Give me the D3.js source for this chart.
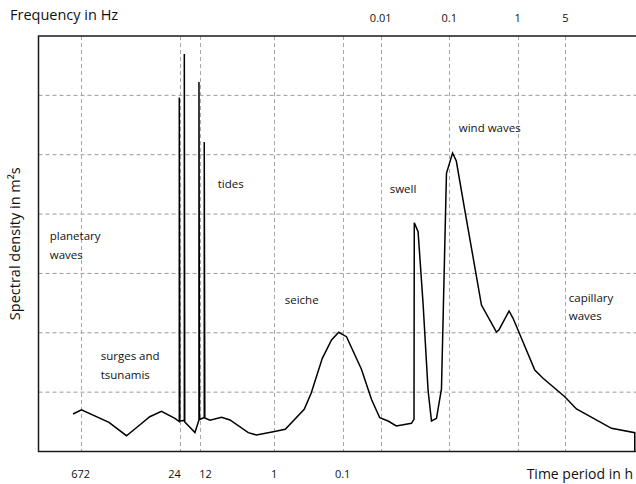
<!DOCTYPE html>
<html>
<head>
<meta charset="utf-8">
<script src="https://cdn.jsdelivr.net/npm/d3@7"></script>
<style>
  body { margin: 0; background: #fff; }
  text { font-family: "Open Sans", "DejaVu Sans", sans-serif; fill: #111; }
</style>
</head>
<body>
<svg id="chart" width="636" height="484"></svg>
<script>
// Ocean wave energy spectrum: spectral density against frequency (log axis)
const freqHz = [
  3.20e-7, 4.24e-7, 1.07e-6, 1.93e-6, 3.01e-6, 4.22e-6, 6.25e-6, 9.84e-6,
  1.14e-5, 1.14e-5, 1.16e-5, 1.30e-5,
  1.35e-5, 1.35e-5, 1.37e-5, 1.93e-5,
  2.21e-5, 2.21e-5, 2.25e-5,
  2.64e-5, 2.64e-5, 2.69e-5,
  3.20e-5, 4.72e-5, 6.27e-5, 1.16e-4, 1.53e-4, 2.69e-4, 4.03e-4, 7.62e-4,
  9.62e-4, 1.40e-3, 1.91e-3, 2.43e-3, 3.16e-3, 5.22e-3, 7.31e-3, 9.66e-3,
  1.28e-2, 1.69e-2, 2.81e-2, 3.06e-2, 3.09e-2, 3.51e-2, 4.15e-2, 4.91e-2,
  5.51e-2, 6.52e-2, 7.71e-2, 9.12e-2, 0.112, 0.127, 0.169, 0.296,
  0.490, 0.535, 0.749, 0.857, 1.78, 2.35, 4.88, 7.23, 23.5, 51.4, 51.4
];
const density = [
  0.632, 0.704, 0.492, 0.266, 0.446, 0.586, 0.677, 0.559,
  0.505, 5.964, 0.514, 0.522,
  0.514, 6.696, 0.497, 0.320,
  0.531, 6.225, 0.539,
  0.573, 5.214, 0.564,
  0.526, 0.576, 0.531, 0.317, 0.278, 0.334, 0.374, 0.711,
  0.980, 1.570, 1.878, 2.008, 1.934, 1.385, 0.879, 0.569,
  0.514, 0.430, 0.475, 0.542, 3.854, 3.703, 2.497, 1.036,
  0.514, 0.559, 1.053, 4.687, 5.029, 4.894, 4.068, 2.468,
  2.013, 2.052, 2.367, 2.244, 1.373, 1.233, 0.923, 0.716, 0.391, 0.317, 0
];

// Bottom axis: wave period in hours; top axis: frequency in Hz
const periodTicksH = [672, 24, 12, 1, 0.1];
const freqTicksHz = [0.01, 0.1, 1, 5];
const densityGrid = [1, 2, 3, 4, 5, 6];

// Wave type annotations, anchored in data space (frequency, density)
const labelLines = [
  ["planetary", "waves"],
  ["surges and", "tsunamis"],
  ["tides"],
  ["seiche"],
  ["swell"],
  ["wind waves"],
  ["capillary", "waves"]
];
const labelFreqHz = [1.46e-7, 8.11e-7, 4.16e-5, 3.96e-4, 1.35e-2, 0.138, 5.58];
const labelDensity = [3.56, 1.54, 4.44, 2.49, 4.36, 5.38, 2.52];

const svg = d3.select("#chart");
const plot = { left: 38.5, top: 36, bottom: 451.5, decadePx: 68.45 };

const x = d3.scaleLog()
  .domain([1e-7, 100])
  .range([plot.left, plot.left + 9 * plot.decadePx]);
const y = d3.scaleLinear().domain([0, 7]).range([plot.bottom, plot.top]);

const hoursToHz = h => 1 / (h * 3600);
const periodTickHz = periodTicksH.map(hoursToHz);

svg.append("clipPath").attr("id", "plotClip")
  .append("rect")
  .attr("x", plot.left).attr("y", plot.top)
  .attr("width", x.range()[1] - plot.left)
  .attr("height", plot.bottom - plot.top);

// Dashed grid
const grid = svg.append("g").attr("clip-path", "url(#plotClip)");
grid.selectAll("line.h").data(densityGrid).join("line")
  .attr("class", "h")
  .attr("x1", plot.left).attr("x2", x.range()[1])
  .attr("y1", d => y(d)).attr("y2", d => y(d))
  .attr("stroke", "#9a9a9a").attr("stroke-width", 1)
  .attr("stroke-dasharray", "4,3");
grid.selectAll("line.v").data(periodTickHz.concat(freqTicksHz)).join("line")
  .attr("class", "v")
  .attr("x1", d => Math.round(x(d)) + 0.5).attr("x2", d => Math.round(x(d)) + 0.5)
  .attr("y1", plot.top).attr("y2", plot.bottom)
  .attr("stroke", "#a8a8a8").attr("stroke-width", 1)
  .attr("stroke-dasharray", "4,3");

// Spectrum curve
const pts = freqHz.map((f, i) => [f, density[i]]);
const line = d3.line().x(d => x(d[0])).y(d => y(d[1]));
svg.append("path")
  .attr("d", line(pts))
  .attr("fill", "none")
  .attr("stroke", "#000")
  .attr("stroke-width", 1.5)
  .attr("stroke-linejoin", "miter");

// Frame
svg.append("rect")
  .attr("x", plot.left).attr("y", plot.top)
  .attr("width", x.range()[1] - plot.left)
  .attr("height", plot.bottom - plot.top)
  .attr("fill", "none").attr("stroke", "#1a1a1a").attr("stroke-width", 1.5);

// Period tick labels; spread apart labels that sit too close together
const minGap = 31;
const periodPos = periodTickHz.map(f => x(f));
const shifted = periodPos.slice();
for (let i = 1; i < periodPos.length; i++) {
  const gap = periodPos[i] - periodPos[i - 1];
  if (gap < minGap) {
    const push = (minGap - gap) / 2;
    shifted[i - 1] -= push;
    shifted[i] += push;
  }
}
svg.append("g").selectAll("text").data(periodTicksH).join("text")
  .attr("x", (d, i) => shifted[i])
  .attr("y", 478)
  .attr("text-anchor", "middle")
  .attr("font-size", 11)
  .text(d => d3.format("~g")(d));

svg.append("g").selectAll("text").data(freqTicksHz).join("text")
  .attr("x", d => x(d))
  .attr("y", 22)
  .attr("text-anchor", "middle")
  .attr("font-size", 11)
  .text(d => d3.format("~g")(d));

// Axis titles
svg.append("text")
  .attr("x", 10).attr("y", 20)
  .attr("font-size", 14.5)
  .text("Frequency in Hz");
svg.append("text")
  .attr("x", 633).attr("y", 479)
  .attr("text-anchor", "end")
  .attr("font-size", 14)
  .text("Time period in h");
svg.append("text")
  .attr("transform", `translate(20,${(plot.top + plot.bottom) / 2}) rotate(-90)`)
  .attr("text-anchor", "middle")
  .attr("font-size", 14.5)
  .text("Spectral density in m²s");

// Annotations
const ann = svg.append("g");
labelLines.forEach((lines, i) => {
  const t = ann.append("text")
    .attr("x", x(labelFreqHz[i]))
    .attr("y", y(labelDensity[i]))
    .attr("font-size", 11.5);
  lines.forEach((s, j) => {
    t.append("tspan")
      .attr("x", x(labelFreqHz[i]))
      .attr("dy", j === 0 ? 0 : 18.5)
      .text(s);
  });
});
</script>
</body>
</html>
